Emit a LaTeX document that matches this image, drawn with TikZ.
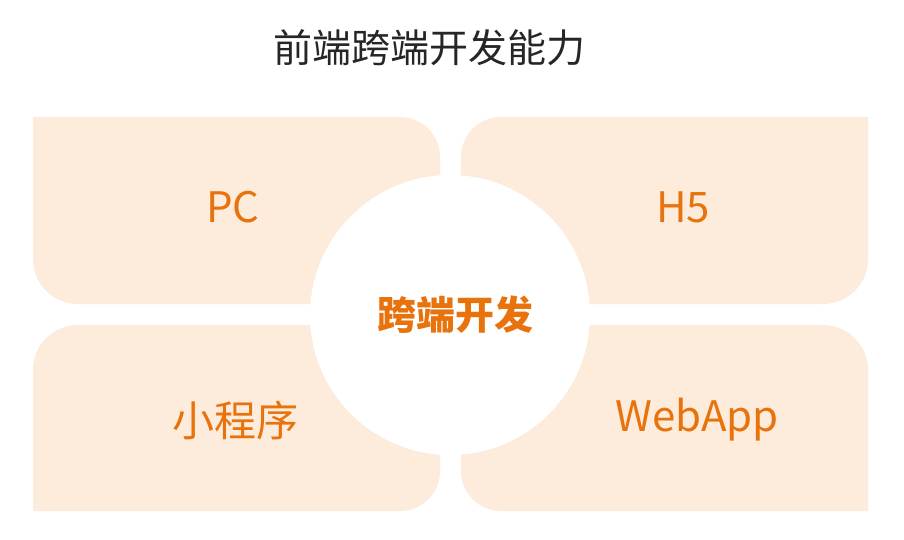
\documentclass[tikz,border=0pt]{standalone}
\usepackage{fontspec}
\setmainfont{Noto Sans CJK SC}
\begin{document}
\begin{tikzpicture}[x=1pt,y=1pt,
  lbl/.style={font=\fontsize{42}{46}\selectfont,inner sep=0}]
\definecolor{pale}{HTML}{FDEBDB}
\definecolor{org}{HTML}{E8730C}
\useasboundingbox (0,0) rectangle (904,539);
\fill[white] (0,0) rectangle (904,539);
\fill[pale] (33,422) -- (400,422) arc[start angle=90,end angle=0,radius=40] -- (440,235) -- (78,235) arc[start angle=270,end angle=180,radius=45] -- cycle;
\fill[pale] (868,422) -- (868,280) arc[start angle=0,end angle=-90,radius=45] -- (461,235) -- (461,382) arc[start angle=180,end angle=90,radius=40] -- cycle;
\fill[pale] (33,28) -- (400,28) arc[start angle=-90,end angle=0,radius=40] -- (440,214) -- (78,214) arc[start angle=90,end angle=180,radius=45] -- cycle;
\fill[pale] (868,28) -- (868,169) arc[start angle=0,end angle=90,radius=45] -- (461,214) -- (461,68) arc[start angle=180,end angle=270,radius=40] -- cycle;
\fill[white] (450,224) circle[radius=140];
\node[lbl,text=org] (pc) at (233,332) {PC};
\node[lbl,text=org] (h5) at (683,332) {H5};
\node[lbl,text=org] (mp) at (235,119) {小程序};
\node[lbl,text=org] (wa) at (697,119) {WebApp};
\node[lbl,text=org,font=\fontsize{39}{43}\selectfont\bfseries] (ct) at (455,224) {跨端开发};
\node[inner sep=0,text=black!85,font=\fontsize{39}{43}\selectfont] (title) at (429,491) {前端跨端开发能力};
\end{tikzpicture}
\end{document}
